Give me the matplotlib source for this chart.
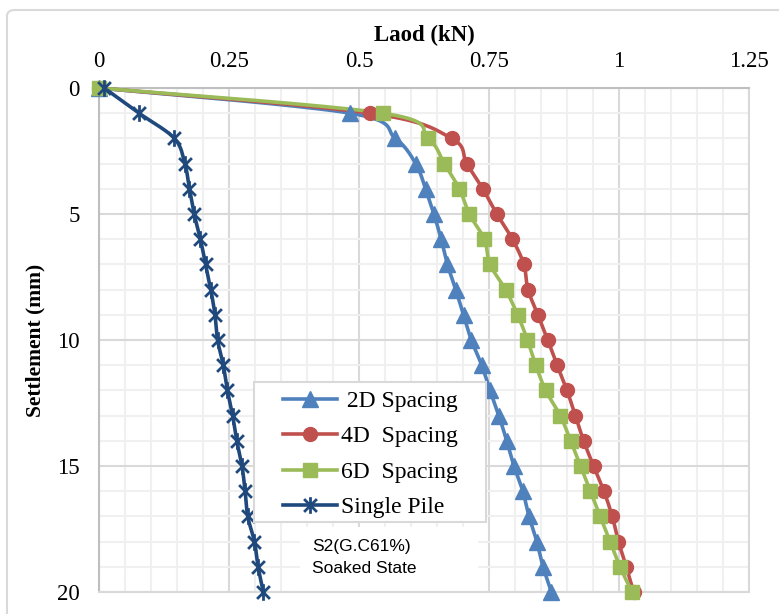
import numpy as np
import matplotlib.pyplot as plt
from matplotlib.patches import FancyBboxPatch, Rectangle
from matplotlib.path import Path
from matplotlib.ticker import MultipleLocator

# settlement (mm) at each load step
settle = list(range(21))

load_2d = [0, 0.483, 0.570, 0.609, 0.628, 0.644, 0.658, 0.670, 0.686, 0.701, 0.716,
           0.736, 0.752, 0.769, 0.784, 0.798, 0.815, 0.827, 0.842, 0.854, 0.870]
load_4d = [0, 0.521, 0.678, 0.707, 0.738, 0.765, 0.795, 0.817, 0.825, 0.844, 0.863,
           0.881, 0.900, 0.916, 0.932, 0.951, 0.971, 0.987, 0.999, 1.014, 1.028]
load_6d = [0, 0.546, 0.633, 0.664, 0.693, 0.712, 0.741, 0.752, 0.782, 0.805, 0.824,
           0.840, 0.859, 0.887, 0.907, 0.926, 0.945, 0.964, 0.983, 1.002, 1.025]
load_single = [0.01, 0.077, 0.145, 0.165, 0.174, 0.183, 0.195, 0.205, 0.215, 0.223, 0.228,
               0.239, 0.247, 0.257, 0.265, 0.275, 0.281, 0.286, 0.299, 0.306, 0.316]

labels = [' 2D Spacing', '4D  Spacing', '6D  Spacing', 'Single Pile']
colors = ['#4F81BD', '#C0504D', '#9BBB59', '#1F497D']

# excel-style star: an x with a vertical stroke
star = Path([(-1, -1), (1, 1), (-1, 1), (1, -1), (0, -1.3), (0, 1.3)],
            [Path.MOVETO, Path.LINETO, Path.MOVETO, Path.LINETO, Path.MOVETO, Path.LINETO])
markers = ['^', 'o', 's', star]
msizes = [11, 10, 10.5, 12]
mwidths = [1, 1, 1, 2]


def smooth(x, y, n=20):
    # catmull-rom through the points, like Excel's smoothed line
    x = np.asarray(x, float) / 1.25
    y = np.asarray(y, float) / 20.0
    px = np.r_[x[0], x, x[-1]]
    py = np.r_[y[0], y, y[-1]]
    outx, outy = [], []
    t = np.linspace(0, 1, n, endpoint=False)
    for i in range(1, len(px) - 2):
        for p, out in ((px, outx), (py, outy)):
            p0, p1, p2, p3 = p[i - 1], p[i], p[i + 1], p[i + 2]
            out.extend(0.5 * ((2 * p1) + (-p0 + p2) * t
                              + (2 * p0 - 5 * p1 + 4 * p2 - p3) * t ** 2
                              + (-p0 + 3 * p1 - 3 * p2 + p3) * t ** 3))
    outx.append(x[-1])
    outy.append(y[-1])
    return np.array(outx) * 1.25, np.array(outy) * 20.0


plt.rcParams['font.family'] = 'Liberation Serif'

fig = plt.figure(figsize=(7.79, 6.14), dpi=100)
frame = FancyBboxPatch((7 / 779, -0.05), 1.0, 1.05 - 10 / 614,
                       boxstyle='round,pad=0,rounding_size=0.01',
                       transform=fig.transFigure, fc='white',
                       ec='#D9D9D9', lw=1.5, zorder=-10)
fig.patches.append(frame)
ax = fig.add_axes([99 / 779, 22 / 614, 650 / 779, 504 / 614])
ax.patch.set_alpha(0)

series = [load_2d, load_4d, load_6d, load_single]
for xs, lab, c, m, ms, mw in zip(series, labels, colors, markers, msizes, mwidths):
    sx, sy = smooth(xs, settle)
    ax.plot(sx, sy, '-', color=c, lw=2.6, zorder=3, clip_on=False)
    ax.plot(xs, settle, ls='none', marker=m, color=c, ms=ms, mew=mw,
            zorder=4, clip_on=False)
    ax.plot([], [], '-', color=c, lw=2.6, marker=m, ms=ms, mew=mw, label=lab)

ax.set_xlim(0, 1.25)
ax.set_ylim(20, 0)
ax.set_xticks([0, 0.25, 0.5, 0.75, 1, 1.25])
ax.set_xticklabels(['0', '0.25', '0.5', '0.75', '1', '1.25'])
ax.xaxis.set_minor_locator(MultipleLocator(0.05))
ax.yaxis.set_major_locator(MultipleLocator(5))
ax.yaxis.set_minor_locator(MultipleLocator(1))
ax.xaxis.tick_top()
ax.xaxis.set_label_position('top')
ax.tick_params(which='both', length=0, labelsize=16.5)
ax.tick_params(axis='x', pad=11.5)
ax.tick_params(axis='y', pad=14)
ax.grid(which='major', color='#D9D9D9', lw=1.5, zorder=0)
ax.grid(which='minor', color='#F0F0F0', lw=1.5, zorder=0)
ax.set_axisbelow(True)
for s in ['top', 'left']:
    ax.spines[s].set_color('#BFBFBF')
    ax.spines[s].set_linewidth(1.5)
for s in ['bottom', 'right']:
    ax.spines[s].set_color('#D9D9D9')
    ax.spines[s].set_linewidth(1.5)

ax.set_xlabel('Laod (kN)', fontsize=16.5, fontweight='bold', labelpad=7)
ax.set_ylabel('Settlement (mm)', fontsize=15.5, fontweight='bold', labelpad=8)

# legend frame drawn by hand so it can be wider than the entries
ax.add_patch(Rectangle((0.2385, 0.1389), 0.3569, 0.2778, transform=ax.transAxes,
                       fc='white', ec='#D9D9D9', lw=1.5, zorder=5))
leg = ax.legend(loc='upper left', bbox_to_anchor=(0.2831, 0.3998), borderaxespad=0,
                borderpad=0, fontsize=17, handlelength=2.3, handletextpad=0.15,
                labelspacing=0.59, frameon=False)
leg.set_zorder(6)

# white patch behind the state note
ax.add_patch(Rectangle((0.309, 0.0), 0.274, 0.129, transform=ax.transAxes,
                       fc='white', ec='none', zorder=2))
ax.text(0.41, 18.63, 'S2(G.C61%)\nSoaked State', fontsize=12.5, family='Liberation Sans',
        va='center', ha='left', linespacing=1.55, zorder=2.5)

fig.savefig('out.png', dpi=100)
